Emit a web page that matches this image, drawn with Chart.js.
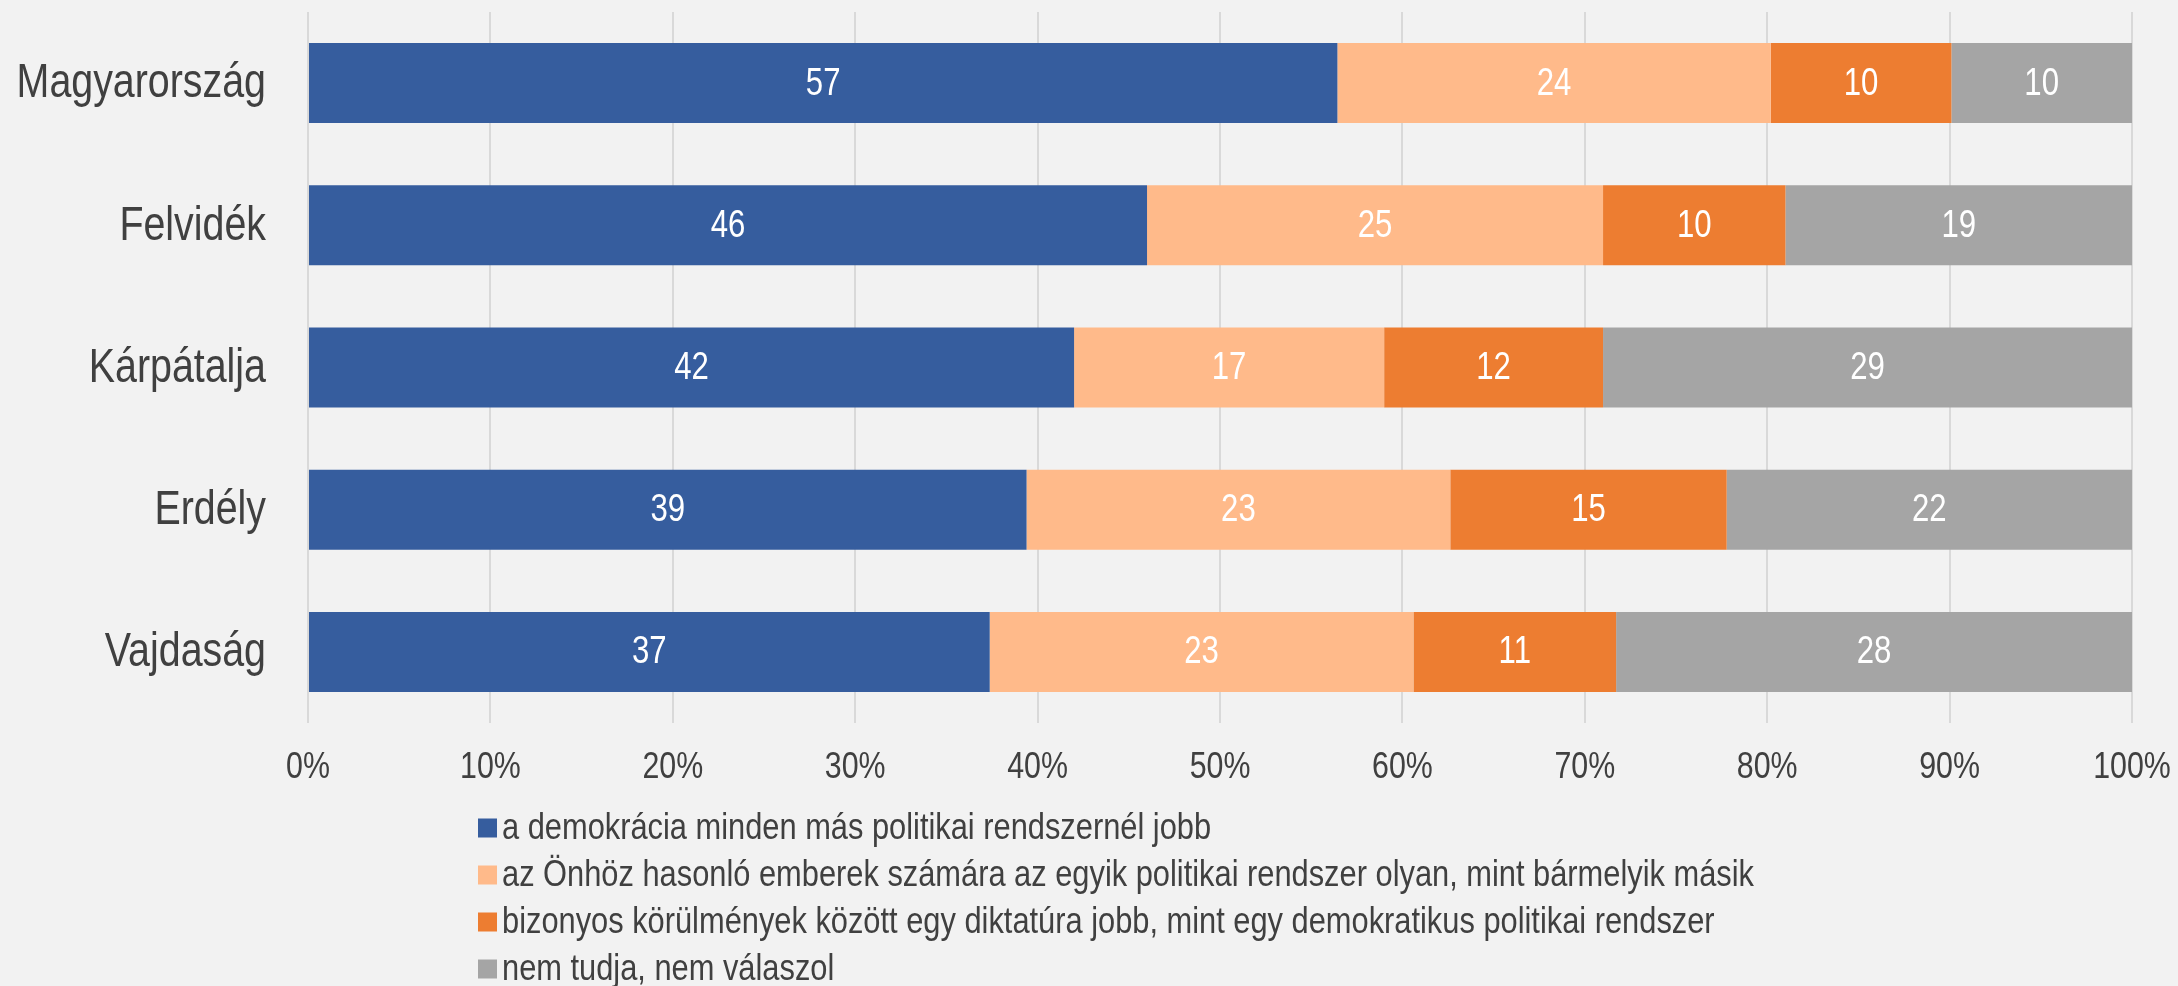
<!DOCTYPE html>
<html>
<head>
<meta charset="utf-8">
<script src="https://cdn.jsdelivr.net/npm/chart.js@4/dist/chart.umd.min.js"></script>
<style>
  html, body { margin: 0; padding: 0; background: #F2F2F2; }
  #wrap { width: 2178px; height: 986px; position: relative; }
</style>
</head>
<body>
<div id="wrap"><canvas id="c" width="2178" height="986"></canvas></div>
<script>
const categories = ["Magyarország", "Felvidék", "Kárpátalja", "Erdély", "Vajdaság"];
const seriesNames = [
  "a demokrácia minden más politikai rendszernél jobb",
  "az Önhöz hasonló emberek számára az egyik politikai rendszer olyan, mint bármelyik másik",
  "bizonyos körülmények között egy diktatúra jobb, mint egy demokratikus politikai rendszer",
  "nem tudja, nem válaszol"
];
const demokracia = [57, 46, 42, 39, 37];
const mindegy = [24, 25, 17, 23, 23];
const diktatura = [10, 10, 12, 15, 11];
const nemTudja = [10, 19, 29, 22, 28];
const xTicks = ["0%", "10%", "20%", "30%", "40%", "50%", "60%", "70%", "80%", "90%", "100%"];
const colors = ["#365D9E", "#FFBA8A", "#ED7D31", "#A5A5A5"];

const FONT = '"Liberation Sans", Arial, sans-serif';
const TXT = "#404040";
const NARROW = 0.82;

const rawSeries = [demokracia, mindegy, diktatura, nemTudja];
const totals = categories.map((_, i) => rawSeries.reduce((s, arr) => s + arr[i], 0));

const datasets = rawSeries.map((arr, k) => ({
  label: seriesNames[k],
  data: arr.map((v, i) => v / totals[i] * 100),
  raw: arr,
  backgroundColor: colors[k],
  borderWidth: 0,
  barPercentage: 0.5625,
  categoryPercentage: 1.0
}));

// draw horizontally condensed text (Arial Narrow look)
function narrowText(ctx, text, x, y, align, size, color) {
  ctx.save();
  ctx.font = size + "px " + FONT;
  ctx.fillStyle = color;
  ctx.textAlign = align;
  ctx.textBaseline = "middle";
  ctx.translate(x, y);
  ctx.scale(NARROW, 1);
  ctx.fillText(text, 0, 0);
  ctx.restore();
}

const axisLabels = {
  id: "axisLabels",
  afterDraw(chart) {
    const ctx = chart.ctx;
    const xs = chart.scales.x, ys = chart.scales.y;
    xs.ticks.forEach((t, i) => {
      narrowText(ctx, xTicks[i], xs.getPixelForValue(t.value), chart.chartArea.bottom + 45, "center", 37, TXT);
    });
    categories.forEach((c, i) => {
      narrowText(ctx, c, chart.chartArea.left - 42, ys.getPixelForValue(i) + 1, "right", 48, TXT);
    });
  }
};

const valueLabels = {
  id: "valueLabels",
  afterDatasetsDraw(chart) {
    const ctx = chart.ctx;
    chart.data.datasets.forEach((ds, k) => {
      const meta = chart.getDatasetMeta(k);
      meta.data.forEach((bar, i) => {
        const cx = (bar.x + bar.base) / 2;
        narrowText(ctx, String(ds.raw[i]), cx, bar.y + 1, "center", 38, "#FFFFFF");
      });
    });
  }
};

const customLegend = {
  id: "customLegend",
  afterDraw(chart) {
    const ctx = chart.ctx;
    const a = chart.chartArea;
    const x0 = a.left + 170;
    const y0 = a.bottom + 105;
    const step = 47;
    chart.data.datasets.forEach((ds, k) => {
      const yc = y0 + k * step;
      ctx.save();
      ctx.fillStyle = ds.backgroundColor;
      ctx.fillRect(x0, yc - 9.5, 19, 19);
      ctx.restore();
      narrowText(ctx, ds.label, x0 + 24, yc + 1, "left", 37.6, TXT);
    });
  }
};

const bgPlugin = {
  id: "bg",
  beforeDraw(chart) {
    const ctx = chart.ctx;
    ctx.save();
    ctx.fillStyle = "#F2F2F2";
    ctx.fillRect(0, 0, chart.width, chart.height);
    ctx.restore();
  }
};

new Chart(document.getElementById("c"), {
  type: "bar",
  data: { labels: categories, datasets },
  options: {
    indexAxis: "y",
    responsive: false,
    animation: false,
    layout: { padding: { top: 12, right: 46, bottom: 193, left: 0 } },
    plugins: {
      legend: { display: false },
      tooltip: { enabled: false }
    },
    scales: {
      x: {
        stacked: true,
        min: 0,
        max: 100,
        border: { display: false },
        grid: { color: "#D9D9D9", lineWidth: 2, drawTicks: false },
        ticks: { stepSize: 10, display: false },
        afterFit(s) { s.height = 70; s.paddingLeft = 0; s.paddingRight = 0; }
      },
      y: {
        stacked: true,
        border: { display: false },
        grid: { display: false, drawTicks: false },
        ticks: { display: false },
        afterFit(s) { s.width = 308; s.paddingTop = 0; s.paddingBottom = 0; }
      }
    }
  },
  plugins: [bgPlugin, valueLabels, axisLabels, customLegend]
});
</script>
</body>
</html>
